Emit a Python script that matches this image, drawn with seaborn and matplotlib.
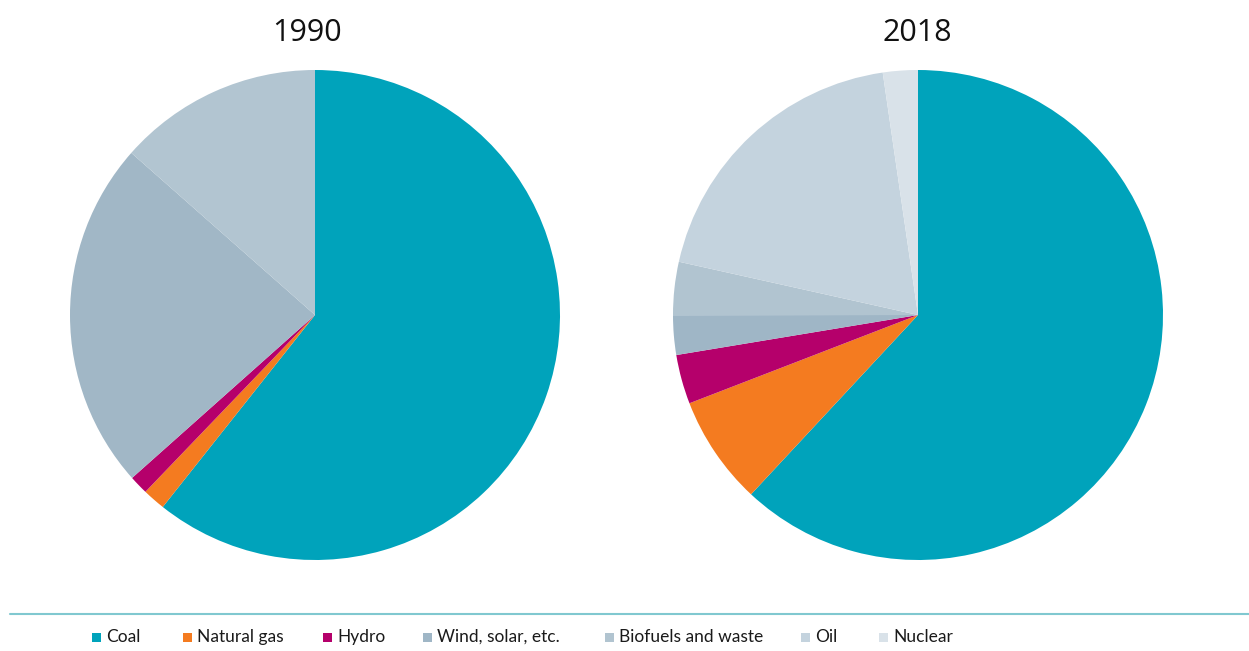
import matplotlib
matplotlib.use("Agg")
import matplotlib.pyplot as plt
from matplotlib.patches import Rectangle
from matplotlib.lines import Line2D
import seaborn as sns

sns.set_theme(style="white")
plt.rcParams['font.family'] = ['Lato', 'DejaVu Sans']

categories = ["Coal", "Natural gas", "Hydro", "Wind, solar, etc.", "Biofuels and waste", "Oil", "Nuclear"]
values_1990 = [60.7, 1.5, 1.25, 0.0, 23.1, 13.5, 0.0]
values_2018 = [61.9, 7.2, 3.25, 2.6, 3.5, 19.2, 2.3]
years = ["1990", "2018"]

legend_colors = sns.color_palette(["#00a3bb", "#f47b20", "#b5006b", "#9fb6c6", "#b1c4d0", "#c4d3de", "#d9e2e9"])
# colours as drawn in the reference 1990 pie
colors_1990 = sns.color_palette(["#00a3bb", "#f47b20", "#b5006b", "#9fb6c6", "#a1b7c6", "#b2c5d1", "#d9e2e9"])

W, H = 1249, 651
fig = plt.figure(figsize=(W / 100, H / 100), dpi=100)

centers = [(315, 315), (918, 315)]
radius = 245
for (cx, cy), vals, cols, yr in zip(centers, [values_1990, values_2018], [colors_1990, legend_colors], years):
    ax = fig.add_axes([(cx - radius) / W, (H - cy - radius) / H, 2 * radius / W, 2 * radius / H])
    ax.pie(vals, colors=cols, startangle=90, counterclock=False, radius=1,
           wedgeprops=dict(linewidth=0))
    ax.set_xlim(-1, 1)
    ax.set_ylim(-1, 1)
    ax.set_aspect("equal")
    ax.axis("off")

title_x = [307, 917]
for tx, yr in zip(title_x, years):
    fig.text(tx / W, 1 - 33 / H, yr, ha="center", va="center", fontsize=22,
             family=["Open Sans", "DejaVu Sans"], color="#111111")

# separator line
fig.add_artist(Line2D([10 / W, 1.0], [1 - 614 / H, 1 - 614 / H], color="#80c8d0", linewidth=1.5))

# legend
leg_x = [92, 183, 323, 423, 605, 801, 879]
ly = 637
for x, lab, c in zip(leg_x, categories, legend_colors):
    fig.add_artist(Rectangle((x / W, 1 - (ly + 5) / H), 9 / W, 9 / H, facecolor=c, edgecolor="none"))
    fig.text((x + 14) / W, 1 - ly / H, lab, ha="left", va="center", fontsize=12.5, color="#1a1a1a")

fig.savefig("out.png", dpi=100)
